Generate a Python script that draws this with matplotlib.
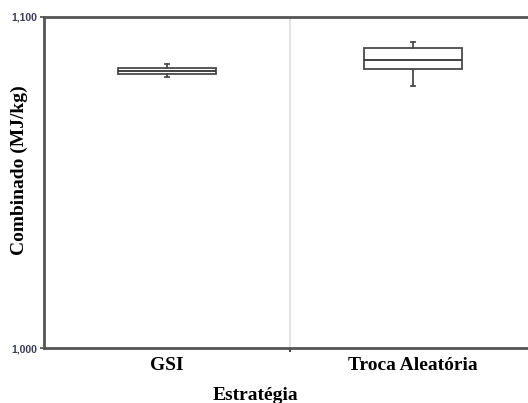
import matplotlib.pyplot as plt

# box statistics per strategy (MJ/kg)
estrategias = ['GSI', 'Troca Aleatória']
whislo = [1081.9, 1079.2]
q1 = [1082.7, 1084.2]
med = [1083.7, 1086.9]
q3 = [1084.5, 1090.7]
whishi = [1085.7, 1092.5]

yticks = [1000, 1100]
ytick_labels = ['1,000', '1,100']

stats = []
for i in range(len(estrategias)):
    stats.append({'label': estrategias[i], 'whislo': whislo[i], 'q1': q1[i],
                  'med': med[i], 'q3': q3[i], 'whishi': whishi[i], 'fliers': []})

fig = plt.figure(figsize=(5.28, 4.03), dpi=100)
ax = fig.add_axes([44 / 528, 1 - 348 / 403, 492 / 528, 331 / 403])

edge = '#4a4a4a'
ax.bxp(stats, positions=[1, 2], widths=0.4, showfliers=False, patch_artist=True,
       capwidths=0.02,
       boxprops=dict(facecolor='white', edgecolor=edge, linewidth=1.3),
       medianprops=dict(color='#333333', linewidth=1.3),
       whiskerprops=dict(color=edge, linewidth=1.3),
       capprops=dict(color=edge, linewidth=1.3))

# separator between the two strategies
ax.axvline(1.5, color='#dddddd', linewidth=1.2, zorder=0)

ax.set_xlim(0.5, 2.5)
ax.set_ylim(1000, 1100)
ax.set_yticks(yticks)
ax.set_yticklabels(ytick_labels, fontsize=7.5, fontweight='bold',
                   family='Liberation Sans', color='#3c3c5a')
ax.set_xticks([1, 2])
ax.set_xticklabels(estrategias, fontsize=14, fontweight='bold', family='Liberation Serif')
ax.set_xticks([1.5], minor=True)
ax.tick_params(axis='x', which='major', length=0, pad=6.5)
ax.tick_params(axis='x', which='minor', length=3, color=edge, width=1.5)
ax.tick_params(axis='y', length=3, color=edge, width=1.2, pad=2)

for s in ['left', 'top', 'bottom']:
    ax.spines[s].set_color('#555555')
    ax.spines[s].set_linewidth(2)
ax.spines['right'].set_visible(False)

ax.set_xlabel('Estratégia', fontsize=14, fontweight='bold', family='Liberation Serif')
ax.xaxis.set_label_coords(0.429, -0.118)
ax.set_ylabel('Combinado (MJ/kg)', fontsize=14, fontweight='bold',
              family='Liberation Serif')
ax.yaxis.set_label_coords(-0.0325, 0.538)

fig.savefig('out.png', dpi=100)
